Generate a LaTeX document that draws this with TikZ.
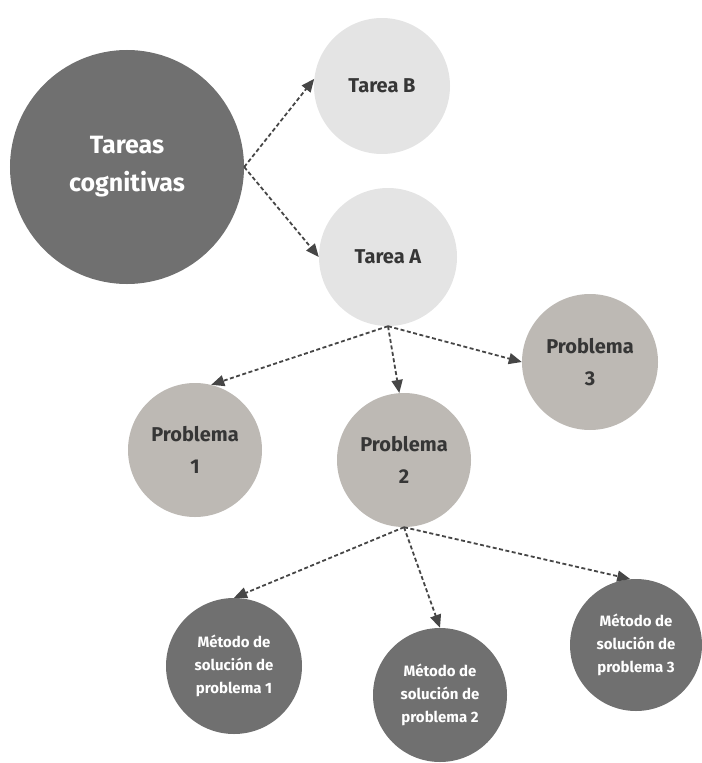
\documentclass[tikz,border=0pt]{standalone}
\usepackage{fontspec}
\setmainfont{Fira Sans}
\usepackage{tikz}
\usetikzlibrary{arrows.meta}

\definecolor{darkbub}{HTML}{707070}
\definecolor{lightbub}{HTML}{E4E4E4}
\definecolor{warmbub}{HTML}{BDB9B4}
\definecolor{linkgray}{HTML}{464646}
\definecolor{labeldark}{HTML}{363636}

\tikzset{
	bubble/.style={circle,inner sep=0pt,align=center,font=\bfseries},
	darkbubble/.style={bubble,fill=darkbub,text=white},
	lightbubble/.style={bubble,fill=lightbub,text=labeldark},
	warmbubble/.style={bubble,fill=warmbub,text=labeldark},
	link/.style={draw=linkgray,line width=1.8bp,dash pattern=on 4bp off 2.5bp,
		-{Triangle[length=13bp,width=11bp]}}
}

\begin{document}
\begin{tikzpicture}[x=1bp,y=-1bp]
	\useasboundingbox (0,0) rectangle (702,763);
	% first level
	\node[darkbubble,minimum size=234bp,font=\bfseries\fontsize{25bp}{38bp}\selectfont] (tareas) at (127,167) {Tareas\\cognitivas};
	\node[lightbubble,minimum size=136bp,font=\bfseries\fontsize{20bp}{24bp}\selectfont] (tareaB) at (382,86) {Tarea B};
	\node[lightbubble,minimum size=138bp,font=\bfseries\fontsize{20bp}{24bp}\selectfont] (tareaA) at (388,257) {Tarea A};
	% problems
	\node[warmbubble,minimum size=134bp,font=\bfseries\fontsize{20bp}{32bp}\selectfont] (prob1) at (195,450) {Problema\\1};
	\node[warmbubble,minimum size=134bp,font=\bfseries\fontsize{20bp}{32bp}\selectfont] (prob2) at (404,460) {Problema\\2};
	\node[warmbubble,minimum size=136bp,font=\bfseries\fontsize{20bp}{32bp}\selectfont] (prob3) at (590,362) {Problema\\3};
	% methods
	\node[darkbubble,minimum size=136bp,font=\bfseries\fontsize{15bp}{23bp}\selectfont] (met1) at (234,666) {Método de\\solución de\\problema 1};
	\node[darkbubble,minimum size=134bp,font=\bfseries\fontsize{15bp}{23bp}\selectfont] (met2) at (440,695) {Método de\\solución de\\problema 2};
	\node[darkbubble,minimum size=132bp,font=\bfseries\fontsize{15bp}{23bp}\selectfont] (met3) at (636,645) {Método de\\solución de\\problema 3};

	\draw[link] (tareas.east) -- (tareaB.174);
	\draw[link] (tareas.east) -- (tareaA.west);
	\draw[link] (tareaA.south) -- (prob1.76);
	\draw[link] (tareaA.south) -- (prob2.94);
	\draw[link] (tareaA.south) -- (prob3.west);
	\draw[link] (prob2.south) -- (met1.north);
	\draw[link] (prob2.south) -- (met2.north);
	\draw[link] (prob2.south) -- (met3.95);
\end{tikzpicture}
\end{document}
